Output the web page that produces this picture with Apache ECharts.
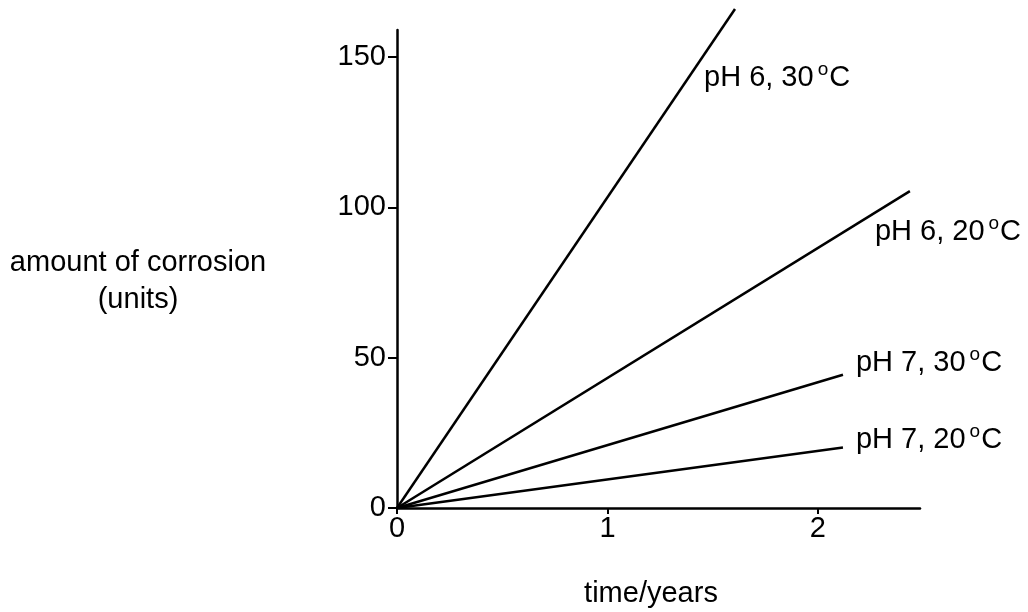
<!DOCTYPE html>
<html><head><meta charset="utf-8">
<script src="https://cdn.jsdelivr.net/npm/echarts@6/dist/echarts.min.js"></script>
<style>html,body{margin:0;padding:0;background:#fff}#c{width:1028px;height:612px}</style>
</head><body><div id="c"></div>
<script>
var seriesNames = ['pH 6, 30', 'pH 6, 20', 'pH 7, 30', 'pH 7, 20'];
var s_pH6_30 = [[0, 0], [1.606, 166]];
var s_pH6_20 = [[0, 0], [2.437, 105.4]];
var s_pH7_30 = [[0, 0], [2.119, 44.3]];
var s_pH7_20 = [[0, 0], [2.119, 20.1]];
var xTicks = [0, 1, 2];
var yTicks = [0, 50, 100, 150];
var labelOffsets = [[-31, 69], [-35, 41], [13, -12], [13, -8]];

var FONT = 'Liberation Sans, Arial, Helvetica, sans-serif';
var FS = 29;
var chart = echarts.init(document.getElementById('c'), null, {renderer: 'canvas'});
var datas = [s_pH6_30, s_pH6_20, s_pH7_30, s_pH7_20];
var series = datas.map(function (d, i) {
  return {
    type: 'line', name: seriesNames[i], data: d, symbol: 'none', clip: false,
    lineStyle: {color: '#000', width: 2.5},
    endLabel: {
      show: true, distance: 0, offset: labelOffsets[i], align: 'left', verticalAlign: 'middle',
      formatter: function () { return '{a|' + seriesNames[i] + '}{s|o}{a|C}'; },
      rich: {
        a: {fontSize: FS, fontFamily: FONT, color: '#000'},
        s: {fontSize: 19, fontFamily: FONT, color: '#000', padding: [0, 1, 16, 4]}
      }
    }
  };
});
chart.setOption({
  animation: false,
  backgroundColor: '#fff',
  grid: {left: 397, right: 108, top: 30, bottom: 104, containLabel: false},
  xAxis: {
    type: 'value', min: 0, max: 2.485, interval: 1,
    axisLine: {show: true, lineStyle: {color: '#000', width: 2.5}, onZero: false},
    axisTick: {show: true, length: 6, lineStyle: {color: '#000', width: 2}, customValues: xTicks},
    axisLabel: {color: '#000', fontSize: FS, fontFamily: FONT, margin: 6, customValues: xTicks},
    splitLine: {show: false}
  },
  yAxis: {
    type: 'value', min: 0, max: 159, interval: 50,
    axisLine: {show: true, lineStyle: {color: '#000', width: 2.5}, onZero: false},
    axisTick: {show: true, length: 9, lineStyle: {color: '#000', width: 2}, customValues: yTicks},
    axisLabel: {color: '#000', fontSize: FS, fontFamily: FONT, margin: 11, customValues: yTicks},
    splitLine: {show: false}
  },
  graphic: [
    {type: 'text', x: 651, y: 594, style: {text: 'time/years', font: FS + 'px ' + FONT, fill: '#000', align: 'center', verticalAlign: 'middle'}},
    {type: 'text', x: 138, y: 281, style: {text: 'amount of corrosion\n(units)', font: FS + 'px ' + FONT, fill: '#000', align: 'center', verticalAlign: 'middle', lineHeight: 37}}
  ],
  series: series
});
</script></body></html>
